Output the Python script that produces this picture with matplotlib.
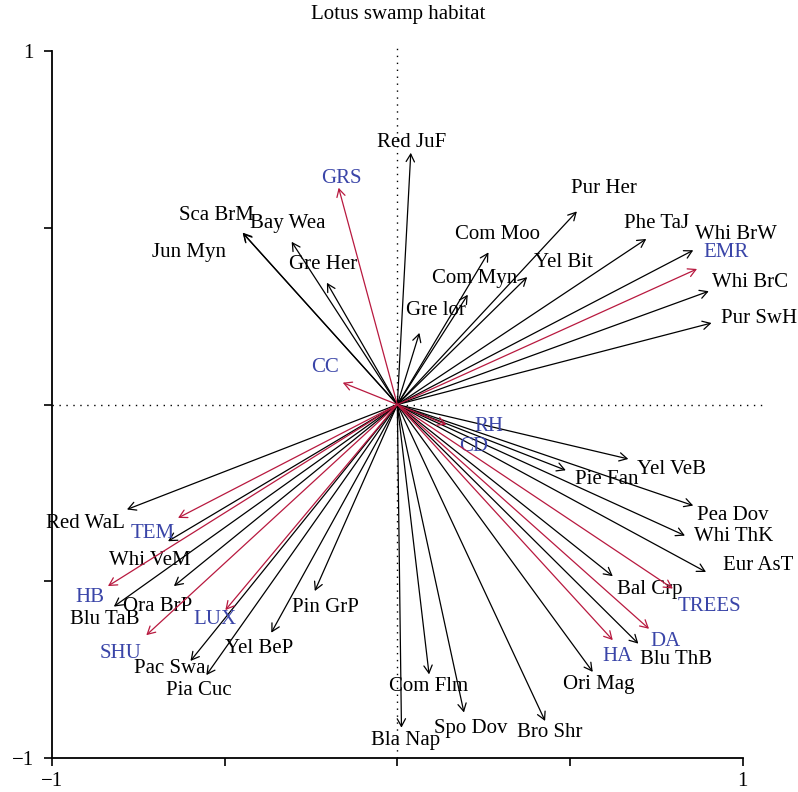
import matplotlib
matplotlib.use('Agg')
import matplotlib.pyplot as plt

plt.rcParams['font.family'] = ['Liberation Serif', 'DejaVu Serif']

# species arrows (tip coordinates) and where their labels sit
species = ['Red JuF', 'Sca BrM', 'Jun Myn', 'Bay Wea', 'Gre Her', 'Pur Her', 'Com Moo',
           'Com Myn', 'Yel Bit', 'Gre lor', 'Phe TaJ', 'Whi BrW', 'Whi BrC', 'Pur SwH',
           'Red WaL', 'Whi VeM', 'Ora BrP', 'Blu TaB', 'Pac Swa', 'Pia Cuc', 'Yel BeP',
           'Pin GrP', 'Bla Nap', 'Com Flm', 'Spo Dov', 'Bro Shr', 'Ori Mag', 'Blu ThB',
           'Bal Crp', 'Eur AsT', 'Whi ThK', 'Pea Dov', 'Yel VeB', 'Pie Fan']
sp_x = [0.039, -0.448, -0.447, -0.306, -0.204, 0.520, 0.264,
        0.204, 0.376, 0.064, 0.721, 0.857, 0.902, 0.910,
        -0.783, -0.664, -0.647, -0.821, -0.599, -0.553, -0.365,
        -0.239, 0.012, 0.092, 0.193, 0.428, 0.566, 0.698,
        0.624, 0.894, 0.833, 0.857, 0.669, 0.488]
sp_y = [0.713, 0.487, 0.485, 0.461, 0.345, 0.547, 0.431,
        0.311, 0.361, 0.203, 0.469, 0.437, 0.321, 0.231,
        -0.297, -0.387, -0.514, -0.572, -0.726, -0.766, -0.646,
        -0.528, -0.915, -0.764, -0.872, -0.896, -0.757, -0.677,
        -0.486, -0.474, -0.371, -0.286, -0.154, -0.186]
sp_lx = [0.042, -0.523, -0.604, -0.317, -0.216, 0.598, 0.291,
         0.224, 0.482, 0.112, 0.750, 0.982, 1.021, 1.047,
         -0.903, -0.717, -0.695, -0.848, -0.659, -0.574, -0.399,
         -0.207, 0.025, 0.091, 0.213, 0.442, 0.582, 0.807,
         0.730, 1.044, 0.973, 0.973, 0.793, 0.608]
sp_ly = [0.741, 0.535, 0.430, 0.512, 0.396, 0.613, 0.481,
         0.356, 0.403, 0.266, 0.514, 0.481, 0.346, 0.245,
         -0.337, -0.441, -0.572, -0.608, -0.747, -0.809, -0.691,
         -0.575, -0.950, -0.798, -0.917, -0.929, -0.792, -0.722,
         -0.523, -0.455, -0.373, -0.314, -0.184, -0.212]

# habitat variables
env = ['GRS', 'CC', 'EMR', 'RH', 'CD', 'TEM', 'HB', 'LUX', 'SHU', 'HA', 'DA', 'TREES']
env_x = [-0.170, -0.158, 0.868, 0.142, 0.0, -0.635, -0.838, -0.498, -0.727, 0.624, 0.729, 0.798]
env_y = [0.614, 0.062, 0.384, -0.057, 0.0, -0.321, -0.514, -0.582, -0.653, -0.667, -0.635, -0.521]
env_lx = [-0.161, -0.210, 0.953, 0.266, 0.220, -0.708, -0.889, -0.529, -0.801, 0.637, 0.777, 0.904]
env_ly = [0.639, 0.105, 0.431, -0.061, -0.118, -0.366, -0.547, -0.610, -0.704, -0.712, -0.670, -0.572]

red = '#b8193f'
blue = '#3a45a8'
fs = 15

fig = plt.figure(figsize=(7.98, 7.92), dpi=100)
ax = fig.add_axes([0.0652, 0.0433, 0.8935, 0.9011])
ax.set_xlim(-1, 1.065)
ax.set_ylim(-1, 1.021)

ax.axhline(0, color='black', ls=(0, (1, 4)), lw=1)
ax.axvline(0, color='black', ls=(0, (1, 4)), lw=1)

head = '->,head_length=0.55,head_width=0.3'
for i in range(len(species)):
    ax.annotate('', xy=(sp_x[i], sp_y[i]), xytext=(0, 0),
                arrowprops=dict(arrowstyle=head, color='black', lw=0.9,
                                shrinkA=0, shrinkB=0))
    ax.text(sp_lx[i], sp_ly[i], species[i], ha='center', va='center',
            fontsize=fs, color='black', clip_on=False)

for i in range(len(env)):
    if env_x[i] != 0 or env_y[i] != 0:
        ax.annotate('', xy=(env_x[i], env_y[i]), xytext=(0, 0),
                    arrowprops=dict(arrowstyle=head, color=red, lw=0.9,
                                    shrinkA=0, shrinkB=0))
    ax.text(env_lx[i], env_ly[i], env[i], ha='center', va='center',
            fontsize=fs, color=blue, clip_on=False)

for s in ['top', 'right']:
    ax.spines[s].set_visible(False)
ax.spines['left'].set_bounds(-1, 1)
ax.spines['bottom'].set_bounds(-1, 1)
ax.spines['left'].set_linewidth(1.3)
ax.spines['bottom'].set_linewidth(1.3)

ticks = [-1, -0.5, 0, 0.5, 1]
ax.set_xticks(ticks)
ax.set_xticklabels(['\u22121', '', '', '', '1'])
ax.set_yticks(ticks)
ax.set_yticklabels(['\u22121', '', '', '', '1'])
ax.tick_params(direction='out', length=6, width=1.2, labelsize=fs)
ax.tick_params(axis='x', pad=4)
ax.tick_params(axis='y', pad=7)

fig.text(0.4987, 1 - 15 / 792, 'Lotus swamp habitat', ha='center', va='center', fontsize=fs)

fig.savefig('out.png', dpi=100)
